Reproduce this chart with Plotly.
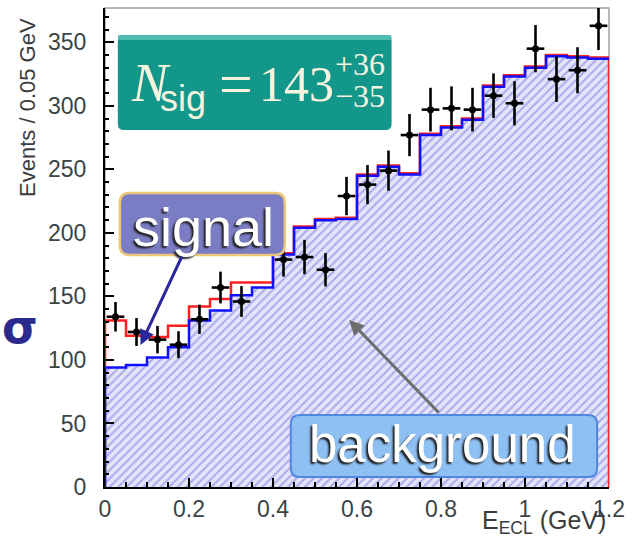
import plotly.graph_objects as go

# ---- histogram data (E_ECL, 0.05 GeV bins) ----
BIN_WIDTH = 0.05
bin_centers = [0.025, 0.075, 0.125, 0.175, 0.225, 0.275, 0.325, 0.375,
               0.425, 0.475, 0.525, 0.575, 0.625, 0.675, 0.725, 0.775,
               0.825, 0.875, 0.925, 0.975, 1.025, 1.075, 1.125, 1.175]
data_counts = [134, 122, 116, 112, 132, 157, 146, 203,
               179, 181, 171, 229, 238, 249, 277, 297,
               298, 297, 308, 302, 345, 321, 328, 363]
data_errors = [11.6, 11.0, 10.8, 10.6, 11.5, 12.5, 12.1, 14.2,
               13.4, 13.5, 13.1, 15.1, 15.4, 15.8, 16.6, 17.2,
               17.3, 17.2, 17.5, 17.4, 18.6, 17.9, 18.1, 19.1]
background_fit = [94, 96, 102, 110, 131, 139, 151, 157,
                  183, 204, 210, 211, 245, 252, 246, 277,
                  283, 289, 315, 323, 330, 339, 338, 337]
total_fit = [131, 119, 118, 127, 142, 148, 161, 161,
             184, 205, 211, 212, 246, 253, 247, 278,
             284, 290, 316, 324, 331, 340, 339, 338]

x_tick_vals = [0, 0.2, 0.4, 0.6, 0.8, 1.0, 1.2]
x_tick_text = ["0", "0.2", "0.4", "0.6", "0.8", "1", "1.2"]
y_tick_vals = [0, 50, 100, 150, 200, 250, 300, 350]

# ---- canvas geometry ----
W, H = 633, 537
ML, MR, MT, MB = 105, 18, 8, 50
PW, PH = W - ML - MR, H - MT - MB


def paper(xp, yp):
    """pixel position on the page -> paper coordinates"""
    return (xp - ML) / PW, (H - MB - yp) / PH


def rounded_box(l, t, r, b, rad):
    def P(x, y):
        X, Y = paper(x, y)
        return f"{X:.5f},{Y:.5f}"
    return (f"M {P(l + rad, t)} L {P(r - rad, t)} Q {P(r, t)} {P(r, t + rad)} "
            f"L {P(r, b - rad)} Q {P(r, b)} {P(r - rad, b)} L {P(l + rad, b)} "
            f"Q {P(l, b)} {P(l, b - rad)} L {P(l, t + rad)} Q {P(l, t)} {P(l + rad, t)} Z")


def step_outline(values):
    edges = [c - BIN_WIDTH / 2 for c in bin_centers] + [bin_centers[-1] + BIN_WIDTH / 2]
    xs = [edges[0]] + edges + [edges[-1]]
    ys = [0] + list(values) + [values[-1], 0]
    return xs, ys


fig = go.Figure()

bx, by = step_outline(background_fit)
tx, ty = step_outline(total_fit)

# hatched background component
fig.add_trace(go.Scatter(
    x=bx, y=by, mode="lines", line_shape="hv",
    line=dict(color="rgba(0,0,0,0)", width=0),
    fill="tozeroy", fillcolor="#e3e3f9",
    fillpattern=dict(shape="/", fgcolor="#7070dc", bgcolor="#e3e3f9",
                     size=6, solidity=0.32),
    hoverinfo="skip", showlegend=False))

# total fit (signal + background)
fig.add_trace(go.Scatter(
    x=tx, y=ty, mode="lines", line_shape="hv",
    line=dict(color="#ff2020", width=2.5), showlegend=False))

# background fit outline
fig.add_trace(go.Scatter(
    x=bx[:-1], y=by[:-1], mode="lines", line_shape="hv",
    line=dict(color="#1010ff", width=2.5), showlegend=False))

# data points
fig.add_trace(go.Scatter(
    x=bin_centers, y=data_counts, mode="markers",
    marker=dict(color="black", size=7),
    error_y=dict(type="data", array=data_errors, color="black",
                 thickness=2.6, width=0),
    error_x=dict(type="constant", value=0.021, color="black",
                 thickness=2.6, width=0),
    showlegend=False))

shapes = []
annotations = []

# plot frame (top / right in grey)
shapes.append(dict(type="rect", xref="paper", yref="paper", x0=0, y0=0, x1=1, y1=1,
                   line=dict(color="#a0a0a0", width=1.5), layer="below"))

# N_sig box
shapes.append(dict(type="path", xref="paper", yref="paper",
                   path=rounded_box(118, 35, 395, 130, 6),
                   fillcolor="#14978b", line=dict(width=0), layer="above"))
shapes.append(dict(type="path", xref="paper", yref="paper",
                   path=rounded_box(118, 35, 395, 40, 2),
                   fillcolor="#4cbcb2", line=dict(width=0), layer="above"))

# signal label box
shapes.append(dict(type="path", xref="paper", yref="paper",
                   path=rounded_box(120, 193, 287, 255, 10),
                   fillcolor="#7b7dc4", line=dict(color="#efc57a", width=2.5),
                   layer="above"))

# background label box
shapes.append(dict(type="path", xref="paper", yref="paper",
                   path=rounded_box(293, 415, 603, 477, 9),
                   fillcolor="#8ec0f4", line=dict(color="#4f86e0", width=2),
                   layer="above"))


def label(text, xp, yp, size, color, family, **kw):
    X, Y = paper(xp, yp)
    annotations.append(dict(text=text, x=X, y=Y, xref="paper", yref="paper",
                            xanchor=kw.pop("xanchor", "center"),
                            yanchor=kw.pop("yanchor", "middle"),
                            showarrow=False,
                            font=dict(size=size, color=color, family=family,
                                      **kw.pop("font_extra", {})),
                            **kw))


cream = "#f6f3de"
label("<i>N</i>", 152, 83, 54, cream, "Liberation Serif")
label("sig", 184, 98, 36, cream, "Liberation Sans")
label("=", 238, 84, 60, cream, "Liberation Serif")
label("143", 339, 84, 50, cream, "Liberation Serif", xanchor="right")
label("+36", 363, 64, 32, cream, "Liberation Serif")
label("\u221235", 363, 96, 32, cream, "Liberation Serif")

label("signal", 205, 227, 54, "white", "Liberation Sans",
      font_extra=dict(shadow="-2px 2px 2px #202020"))
label("background", 447, 444, 51, "white", "Liberation Sans",
      font_extra=dict(shadow="-2px 2px 2px #202020"))

label("\u03c3", 19, 327, 46, "#2b2b8f", "DejaVu Sans",
      font_extra=dict(weight="bold"))

label("Events / 0.05 GeV", 26, 107, 22, "#3b3b3b", "Liberation Sans",
      textangle=-90)
label("E<sub>ECL</sub> (GeV)", 614, 522, 25, "#3b3b3b", "Liberation Sans",
      xanchor="right")

# arrows pointing into the histogram
hx, hy = paper(141, 345)
annotations.append(dict(x=hx, y=hy, xref="paper", yref="paper", text="",
                        showarrow=True, ax=42, ay=-90, arrowcolor="#28289a",
                        arrowwidth=3, arrowhead=2, arrowsize=1))
hx, hy = paper(352, 320)
annotations.append(dict(x=hx, y=hy, xref="paper", yref="paper", text="",
                        showarrow=True, ax=91, ay=94, arrowcolor="#6e6e6e",
                        arrowwidth=3, arrowhead=2, arrowsize=1))

tick_font = dict(family="Liberation Sans", size=23, color="#3a4444")

fig.update_layout(
    width=W, height=H,
    margin=dict(l=ML, r=MR, t=MT, b=MB),
    paper_bgcolor="white", plot_bgcolor="white",
    shapes=shapes, annotations=annotations,
    xaxis=dict(range=[0, 1.2], showgrid=False, zeroline=False,
               showline=True, linecolor="black", linewidth=2,
               ticks="inside", ticklen=9, tickwidth=1.5, tickcolor="black",
               tickvals=x_tick_vals, ticktext=x_tick_text,
               tickfont=tick_font, ticklabelstandoff=0,
               minor=dict(ticks="inside", ticklen=5, dtick=0.05,
                          tickcolor="black", showgrid=False)),
    yaxis=dict(range=[0, 377], showgrid=False, zeroline=False,
               showline=True, linecolor="black", linewidth=2,
               ticks="inside", ticklen=9, tickwidth=1.5, tickcolor="black",
               tickvals=y_tick_vals, tickfont=tick_font, ticklabelstandoff=12,
               minor=dict(ticks="inside", ticklen=4, dtick=10,
                          tickcolor="black", showgrid=False)),
)

fig.write_html("out.html")
